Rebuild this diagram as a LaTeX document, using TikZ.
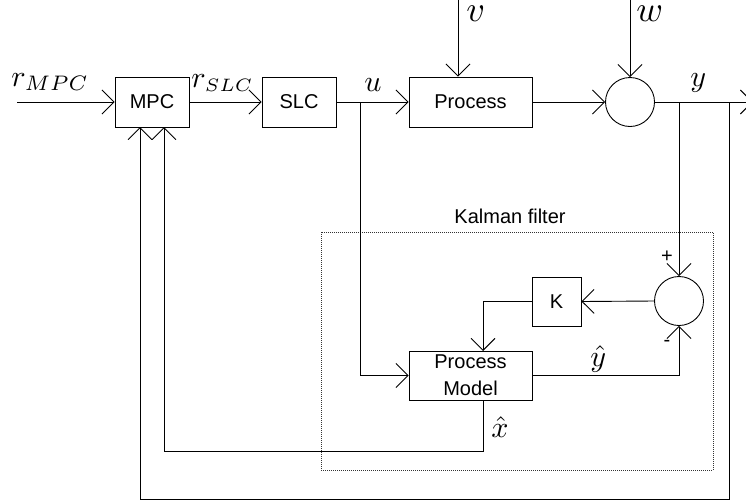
\documentclass[tikz,border=0pt]{standalone}
\usepackage{fontspec}
\setmainfont{Liberation Sans}
\usetikzlibrary{arrows.meta}
\newcommand{\mathlbl}[2][3.0]{\scalebox{#1}{$#2$}}
\begin{document}
\begin{tikzpicture}[x=1pt,y=-1pt,
  line width=0.9pt,
  >={Straight Barb[length=12pt,width=24pt,line width=0.9pt]},
  blockbox/.style={draw,rectangle,inner sep=0pt,font=\fontsize{20}{27}\selectfont,align=center},
  sumcirc/.style={draw,circle,inner sep=0pt,minimum size=49pt},
  mathlab/.style={inner sep=0pt,font=\fontsize{10}{12}\selectfont},
  signlab/.style={inner sep=0pt,font=\fontsize{20}{24}\selectfont},
  kalbox/.style={draw=black!80,line width=0.6pt,dash pattern=on 1pt off 1pt}]
\useasboundingbox (0,0) rectangle (746,501);
% main blocks
\node[blockbox,minimum width=74pt,minimum height=50pt] (mpc) at (152,102) {MPC};
\node[blockbox,minimum width=74pt,minimum height=50pt] (slc) at (299,102) {SLC};
\node[blockbox,minimum width=123pt,minimum height=50pt] (proc) at (470.5,102) {Process};
\node[sumcirc] (sum1) at (630,102) {};
\node[blockbox,minimum width=49pt,minimum height=49pt] (kk) at (556.5,301.5) {K};
\node[sumcirc] (sum2) at (679,301) {};
\node[blockbox,minimum width=123pt,minimum height=49pt] (pm) at (470.5,375.5) {Process\\Model};
% coordinates
\coordinate (rin) at (17,102);
\coordinate (vin) at (458,0);
\coordinate (win) at (630,0);
\coordinate (ubr) at (360,102);
\coordinate (ubot) at (360,375.5);
\coordinate (ybr) at (679,102);
\coordinate (ybr2) at (729,102);
\coordinate (yout) at (753,102);
\coordinate (kcorner) at (483,301.5);
\coordinate (pmtop) at (483,351);
\coordinate (yhatc) at (679,375.5);
\coordinate (xhs) at (483,400);
\coordinate (xhc) at (483,451);
\coordinate (xhl) at (164,451);
\coordinate (mpcb2) at (164,127);
\coordinate (fbr) at (729,499);
\coordinate (fbl) at (140,499);
\coordinate (mpcb1) at (140,127);
% Kalman filter frame
\draw[kalbox] (321,232) rectangle (713,470);
\node[signlab,anchor=base west] (kallab) at (454,223) {Kalman filter};
% connectors
\draw[->] (rin) -- (mpc.west);
\draw[->] (mpc.east) -- (slc.west);
\draw[->] (slc.east) -- (proc.west);
\draw[->] (vin) -- (vin |- proc.north);
\draw[->] (proc.east) -- (sum1.west);
\draw[->] (win) -- (sum1.north);
\draw[->] (sum1.east) -- (yout);
\draw[->] (ybr) -- (sum2.north);
\draw[->] (sum2.west) -- (kk.east);
\draw[->] (kk.west) -- (kcorner) -- (pmtop);
\draw[->] (ubr) -- (ubot) -- (pm.west);
\draw[->] (pm.east) -- (yhatc) -- (sum2.south);
\draw[->] (xhs) -- (xhc) -- (xhl) -- (mpcb2);
\draw[->] (ybr2) -- (fbr) -- (fbl) -- (mpcb1);
% labels
\node[mathlab,anchor=base west] (lrmpc) at (11,86) {\mathlbl{r_{MPC}}};
\node[mathlab,anchor=base west] (lrslc) at (191,87) {\mathlbl{r_{\mbox{\fontsize{6}{7}\selectfont$SLC$}}}};
\node[mathlab,anchor=base west] (lu) at (364,91) {\mathlbl{u}};
\node[mathlab,anchor=base west] (lv) at (466,21.5) {\mathlbl[3.6]{v}};
\node[mathlab,anchor=base west] (lw) at (636,21.5) {\mathlbl[3.6]{w}};
\node[mathlab,anchor=base west] (ly) at (690,86) {\mathlbl{y}};
\node[mathlab,anchor=base west] (lyhat) at (590,366) {\mathlbl{\hat{y}}};
\node[mathlab,anchor=base west] (lxhat) at (491,437) {\mathlbl{\hat{x}}};
\node[signlab] (lplus) at (667,257) {+};
\node[signlab] (lminus) at (667,343) {-};
\end{tikzpicture}
\end{document}
